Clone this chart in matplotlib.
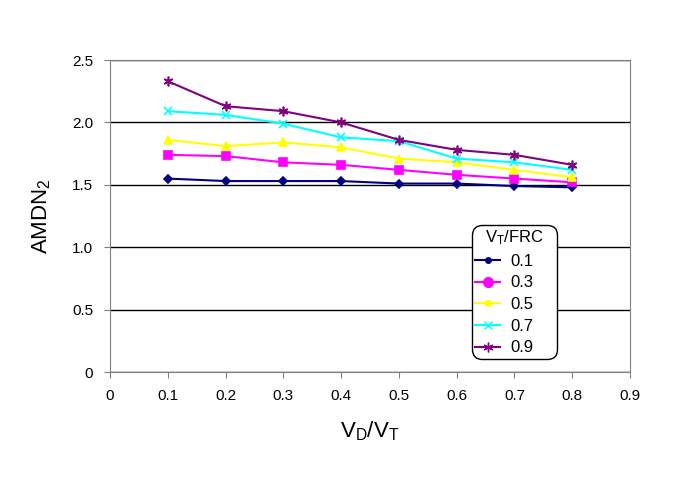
import matplotlib
matplotlib.use("Agg")
import matplotlib.pyplot as plt
from matplotlib.lines import Line2D

plt.rcParams['font.family'] = ['Liberation Sans', 'DejaVu Sans']
plt.rcParams['mathtext.default'] = 'regular'

# data
vd_vt = [0.1, 0.2, 0.3, 0.4, 0.5, 0.6, 0.7, 0.8]
labels = ['0.1', '0.3', '0.5', '0.7', '0.9']
s01 = [1.55, 1.53, 1.53, 1.53, 1.51, 1.51, 1.49, 1.48]
s03 = [1.74, 1.73, 1.68, 1.66, 1.62, 1.58, 1.55, 1.52]
s05 = [1.86, 1.81, 1.84, 1.80, 1.71, 1.68, 1.62, 1.56]
s07 = [2.09, 2.06, 1.99, 1.88, 1.85, 1.71, 1.68, 1.62]
s09 = [2.33, 2.13, 2.09, 2.00, 1.86, 1.78, 1.74, 1.66]

colors = ['#000080', '#FF00FF', '#FFFF00', '#00FFFF', '#800080']
markers = ['D', 's', '^', 'x', (6, 2, 0)]
msizes = [4, 6, 6, 6, 7]
leg_markers = ['o', 'o', 'o', 'x', (6, 2, 0)]
leg_sizes = [4, 7, 4, 6, 7]

fig = plt.figure(figsize=(6.85, 4.84), dpi=100)
ax = fig.add_axes([0.1606, 0.2314, 0.7591, 0.6446])

for ys, c, m, ms in zip([s01, s03, s05, s07, s09], colors, markers, msizes):
    ax.plot(vd_vt, ys, color=c, marker=m, markersize=ms, lw=1.5, mew=1.2)

ax.set_xlim(0, 0.9)
ax.set_ylim(0, 2.5)
ax.set_xticks([0, 0.1, 0.2, 0.3, 0.4, 0.5, 0.6, 0.7, 0.8, 0.9])
ax.set_xticklabels(['0', '0.1', '0.2', '0.3', '0.4', '0.5', '0.6', '0.7', '0.8', '0.9'])
ax.set_yticks([0, 0.5, 1.0, 1.5, 2.0, 2.5])
ax.set_yticklabels(['0', '0.5', '1.0', '1.5', '2.0', '2.5'])
ax.tick_params(labelsize=11, direction='out', length=4, color='#808080', pad=8)
ax.yaxis.grid(True, color='black', lw=1)
ax.set_axisbelow(True)
for sp in ax.spines.values():
    sp.set_color('#808080')

ax.set_xlabel('V$_D$/V$_T$', fontsize=16, labelpad=12)
ax.set_ylabel('AMDN$_2$', fontsize=16, labelpad=14)

handles = [Line2D([], [], color=c, marker=m, markersize=ms, lw=1.5)
           for c, m, ms in zip(colors, leg_markers, leg_sizes)]
leg = ax.legend(handles, labels, title='V$_T$/FRC', loc='upper left',
                bbox_to_anchor=(0.696, 0.0, 0.1635, 0.471), mode='expand',
                borderaxespad=0, fontsize=12, title_fontsize=12,
                frameon=True, fancybox=True, framealpha=1, edgecolor='black',
                handlelength=1.5, handletextpad=0.6, labelspacing=0.4,
                borderpad=0.2)
leg.get_frame().set_linewidth(1)
leg.get_frame().set_boxstyle('round,pad=0,rounding_size=0.6')

fig.savefig('out.png', dpi=100)
